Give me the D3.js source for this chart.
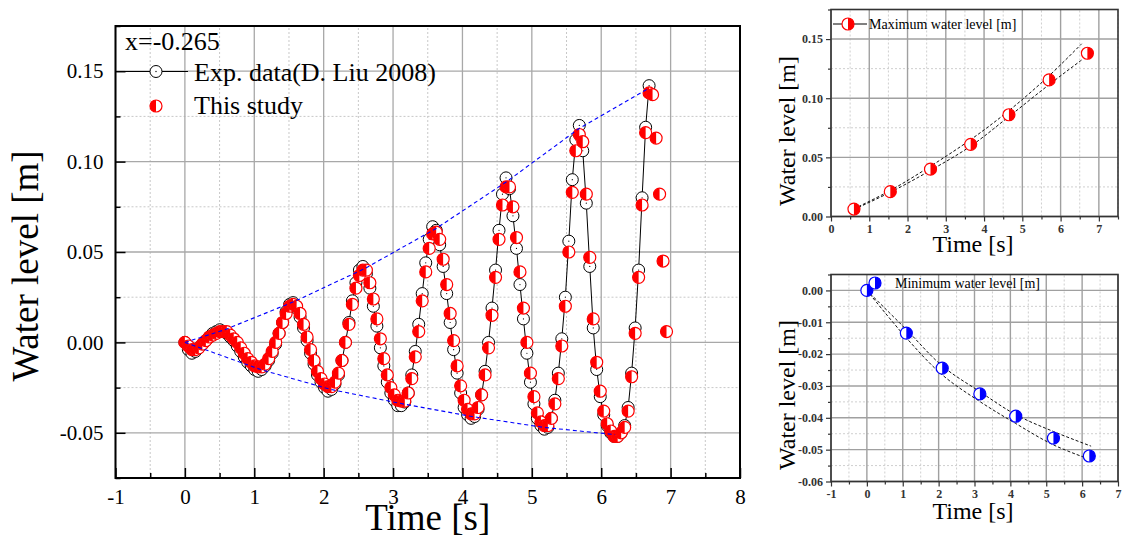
<!DOCTYPE html>
<html><head><meta charset="utf-8">
<script src="https://cdn.jsdelivr.net/npm/d3@7"></script>
<style>
body{margin:0;background:#fff}
svg{display:block}
text{font-family:"Liberation Serif","Times New Roman",serif}
</style>
</head><body>
<svg id="c" width="1123" height="537"></svg>
<script>
// ---------------- DATA ----------------
const timeS = [
0,0.050,0.101,0.151,0.201,0.252,0.302,0.352,0.402,0.453,
0.503,0.553,0.604,0.654,0.704,0.755,0.805,0.855,0.905,0.956,
1.006,1.056,1.107,1.157,1.207,1.258,1.308,1.358,1.408,1.459,
1.509,1.559,1.610,1.660,1.710,1.761,1.811,1.861,1.911,1.962,
2.012,2.062,2.113,2.163,2.213,2.264,2.314,2.364,2.414,2.465,
2.515,2.565,2.616,2.666,2.716,2.767,2.817,2.867,2.917,2.968,
3.018,3.068,3.119,3.169,3.219,3.270,3.320,3.370,3.420,3.471,
3.521,3.571,3.622,3.672,3.722,3.773,3.823,3.873,3.923,3.974,
4.024,4.074,4.125,4.175,4.225,4.276,4.326,4.376,4.426,4.477,
4.527,4.577,4.628,4.678,4.728,4.779,4.829,4.879,4.929,4.980,
5.030,5.080,5.131,5.181,5.231,5.282,5.332,5.382,5.432,5.483,
5.533,5.583,5.634,5.684,5.734,5.785,5.835,5.885,5.935,5.986,
6.036,6.086,6.137,6.187,6.237,6.288,6.338,6.388,6.438,6.489,
6.539,6.589,6.640,6.690,6.740,6.791,6.841,6.891,6.941];

const expLevel = [
0.000,-0.004,-0.006,-0.005,-0.003,-0.001,0.001,0.003,0.005,0.006,
0.007,0.006,0.005,0.003,0.001,-0.002,-0.005,-0.008,-0.011,-0.013,
-0.015,-0.016,-0.015,-0.013,-0.010,-0.006,-0.001,0.005,0.011,0.017,
0.021,0.022,0.019,0.014,0.008,0.001,-0.006,-0.012,-0.018,-0.022,
-0.025,-0.027,-0.026,-0.023,-0.018,-0.010,0.000,0.011,0.023,0.033,
0.040,0.042,0.038,0.030,0.020,0.009,-0.003,-0.013,-0.022,-0.028,
-0.032,-0.035,-0.035,-0.033,-0.028,-0.018,-0.005,0.010,0.027,0.044,
0.057,0.064,0.062,0.054,0.042,0.027,0.011,-0.004,-0.017,-0.028,
-0.036,-0.040,-0.042,-0.041,-0.037,-0.029,-0.016,0.000,0.019,0.040,
0.062,0.082,0.091,0.085,0.070,0.052,0.032,0.013,-0.006,-0.022,
-0.034,-0.042,-0.046,-0.048,-0.047,-0.042,-0.032,-0.017,0.002,0.025,
0.056,0.090,0.112,0.120,0.106,0.077,0.042,0.008,-0.015,-0.030,
-0.040,-0.046,-0.050,-0.052,-0.052,-0.050,-0.046,-0.036,-0.017,0.008,
0.040,0.080,0.119,0.142];

const studyLevel = [
0.000,-0.002,-0.004,-0.004,-0.003,-0.001,0.001,0.003,0.004,0.005,
0.006,0.006,0.006,0.004,0.002,0.000,-0.003,-0.006,-0.009,-0.011,
-0.013,-0.0135,-0.0135,-0.012,-0.009,-0.005,0.000,0.005,0.011,0.016,
0.020,0.021,0.020,0.016,0.010,0.003,-0.004,-0.010,-0.016,-0.020,
-0.023,-0.0245,-0.0245,-0.022,-0.017,-0.010,0.000,0.010,0.021,0.030,
0.037,0.040,0.040,0.033,0.024,0.013,0.002,-0.009,-0.018,-0.025,
-0.029,-0.032,-0.0325,-0.0325,-0.028,-0.020,-0.008,0.006,0.023,0.039,
0.052,0.060,0.061,0.057,0.046,0.032,0.016,0.001,-0.013,-0.024,
-0.032,-0.037,-0.0395,-0.0395,-0.036,-0.029,-0.018,-0.003,0.015,0.036,
0.057,0.076,0.086,0.086,0.075,0.058,0.039,0.019,0.000,-0.017,
-0.030,-0.039,-0.044,-0.046,-0.046,-0.042,-0.034,-0.020,-0.002,0.020,
0.050,0.083,0.106,0.115,0.111,0.082,0.047,0.013,-0.011,-0.027,
-0.038,-0.045,-0.049,-0.052,-0.052,-0.050,-0.047,-0.038,-0.019,0.005,
0.036,0.076,0.116,0.138,0.137,0.113,0.082,0.045,0.006];

// envelope (blue dashed) through crests / troughs
const crestTime  = [0, 0.56, 1.57, 2.6, 3.62, 4.64, 5.67, 6.66];
const crestLevel = [0, 0.0068, 0.0225, 0.041, 0.063, 0.089, 0.118, 0.140];
const troughTime  = [0, 1.09, 2.1, 3.14, 4.14, 5.17, 6.2];
const troughLevel = [0, -0.015, -0.026, -0.034, -0.041, -0.047, -0.051];

// max water level chart
const maxTime  = [0.6, 1.55, 2.6, 3.65, 4.65, 5.7, 6.7];
const maxLevel = [0.0063, 0.021, 0.040, 0.061, 0.086, 0.1155, 0.138];
const maxFitTime  = [0.6, 1.55, 2.6, 3.65, 4.65, 5.7, 6.55];
const maxFitUpper = [0.0065, 0.022, 0.0425, 0.065, 0.0895, 0.119, 0.146];
const maxFitLower = [0.006, 0.0205, 0.039, 0.0595, 0.0845, 0.1115, 0.1323];

// min water level chart
const minTime  = [0, 1.1, 2.1, 3.15, 4.15, 5.2, 6.2];
const minLevel = [0, -0.0134, -0.0244, -0.0325, -0.0395, -0.0464, -0.052];
const minFitTime  = [0, 1.1, 2.1, 3.15, 4.15, 5.2, 6.25];
const minFitUpper = [0, -0.0123, -0.0237, -0.0318, -0.039, -0.0443, -0.0489];
const minFitLower = [0, -0.0149, -0.0265, -0.0349, -0.0418, -0.0485, -0.0532];

// ticks
const mainXTicks = [-1,0,1,2,3,4,5,6,7,8];
const mainXMinor = [-0.5,0.5,1.5,2.5,3.5,4.5,5.5,6.5,7.5];
const mainYTicks = [-0.05,0,0.05,0.10,0.15];
const mainYMinor = [-0.075,-0.025,0.025,0.075,0.125,0.175];
const maxXTicks = [0,1,2,3,4,5,6,7];
const maxXMinor = [0.5,1.5,2.5,3.5,4.5,5.5,6.5,7.5];
const maxYTicks = [0,0.05,0.10,0.15];
const maxYMinor = [0.025,0.075,0.125,0.175];
const minXTicks = [-1,0,1,2,3,4,5,6,7];
const minXMinor = [-0.5,0.5,1.5,2.5,3.5,4.5,5.5,6.5];
const minYTicks = [0,-0.01,-0.02,-0.03,-0.04,-0.05,-0.06];
const minYMinor = [0.005,-0.005,-0.015,-0.025,-0.035,-0.045,-0.055];

// ---------------- DRAW ----------------
const svg = d3.select('#c');
const RED = '#ff0000', BLUE = '#0000ff';

function halfMarker(g, cx, cy, r, color, side) {
  g.append('circle').attr('cx', cx).attr('cy', cy).attr('r', r)
    .attr('fill', '#fff').attr('stroke', color).attr('stroke-width', 1.2);
  const sweep = side === 'left' ? 0 : 1;
  g.append('path')
    .attr('d', `M${cx},${cy - r} A${r},${r} 0 0 ${sweep} ${cx},${cy + r} Z`)
    .attr('fill', color);
}

function grids(g, x, y, xT, xm, yT, ym, majC, minC, majW) {
  const [x0, x1] = x.range(), [y0, y1] = y.range();
  g.selectAll(null).data(xm).enter().append('line')
    .attr('x1', d => x(d)).attr('x2', d => x(d)).attr('y1', y0).attr('y2', y1)
    .attr('stroke', minC).attr('stroke-width', 1).attr('stroke-dasharray', '2,2');
  g.selectAll(null).data(ym).enter().append('line')
    .attr('y1', d => y(d)).attr('y2', d => y(d)).attr('x1', x0).attr('x2', x1)
    .attr('stroke', minC).attr('stroke-width', 1).attr('stroke-dasharray', '2,2');
  g.selectAll(null).data(xT).enter().append('line')
    .attr('x1', d => x(d)).attr('x2', d => x(d)).attr('y1', y0).attr('y2', y1)
    .attr('stroke', majC).attr('stroke-width', majW);
  g.selectAll(null).data(yT).enter().append('line')
    .attr('y1', d => y(d)).attr('y2', d => y(d)).attr('x1', x0).attr('x2', x1)
    .attr('stroke', majC).attr('stroke-width', majW);
}

function styleAxis(sel, fontSize, color, weight) {
  sel.select('.domain').remove();
  sel.selectAll('line').attr('stroke', '#000').attr('stroke-width', 1.5);
  sel.selectAll('text').attr('font-family', '"Liberation Serif", serif')
    .attr('font-size', fontSize).attr('fill', color).attr('font-weight', weight || 'normal');
}

const fmt2 = d => (Math.abs(d) < 1e-9 ? 0 : d).toFixed(2);

// ===== MAIN CHART =====
{
  const L = 115.5, R = 740, T = 26, B = 478;
  const x = d3.scaleLinear().domain([-1, 8]).range([L, R]);
  const y = d3.scaleLinear().domain([-0.075, 0.175]).range([B, T]);
  const g = svg.append('g');
  grids(g, x, y, mainXTicks, mainXMinor, mainYTicks, mainYMinor, '#a8a8a8', '#c8c8c8', 1.3);

  const ax = g.append('g').attr('transform', `translate(0,${B})`)
    .call(d3.axisBottom(x).tickValues(mainXTicks).tickFormat(d => String(d))
      .tickSizeInner(-10).tickSizeOuter(0).tickPadding(11));
  styleAxis(ax, 21, '#000');
  const axm = g.append('g').attr('transform', `translate(0,${B})`)
    .call(d3.axisBottom(x).tickValues(mainXMinor).tickFormat('').tickSizeInner(-5).tickSizeOuter(0));
  styleAxis(axm, 21, '#000');
  const ay = g.append('g').attr('transform', `translate(${L},0)`)
    .call(d3.axisLeft(y).tickValues(mainYTicks).tickFormat(fmt2)
      .tickSizeInner(-10).tickSizeOuter(0).tickPadding(12));
  styleAxis(ay, 21, '#000');
  const aym = g.append('g').attr('transform', `translate(${L},0)`)
    .call(d3.axisLeft(y).tickValues(mainYMinor).tickFormat('').tickSizeInner(-5).tickSizeOuter(0));
  styleAxis(aym, 21, '#000');

  g.append('rect').attr('x', L).attr('y', T).attr('width', R - L).attr('height', B - T)
    .attr('fill', 'none').attr('stroke', '#000').attr('stroke-width', 2);

  const expPts = expLevel.map((v, i) => [timeS[i], v]);
  const stPts = studyLevel.map((v, i) => [timeS[i], v]);
  g.append('path').datum(expPts)
    .attr('d', d3.line().x(d => x(d[0])).y(d => y(d[1])))
    .attr('fill', 'none').attr('stroke', '#000').attr('stroke-width', 1);
  g.selectAll(null).data(expPts).enter().append('circle')
    .attr('cx', d => x(d[0])).attr('cy', d => y(d[1])).attr('r', 6)
    .attr('fill', '#fff').attr('stroke', '#000').attr('stroke-width', 1);
  g.selectAll(null).data(expPts).enter().append('circle')
    .attr('cx', d => x(d[0])).attr('cy', d => y(d[1])).attr('r', 0.6).attr('fill', '#000');
  const mg = g.append('g');
  stPts.forEach(d => halfMarker(mg, x(d[0]), y(d[1]), 6, RED, 'left'));

  const env = d3.line().x(d => x(d[0])).y(d => y(d[1]));
  g.append('path').datum(crestTime.map((t, i) => [t, crestLevel[i]])).attr('d', env)
    .attr('fill', 'none').attr('stroke', BLUE).attr('stroke-width', 1.1).attr('stroke-dasharray', '4,3');
  g.append('path').datum(troughTime.map((t, i) => [t, troughLevel[i]])).attr('d', env)
    .attr('fill', 'none').attr('stroke', BLUE).attr('stroke-width', 1.1).attr('stroke-dasharray', '4,3');

  g.append('text').attr('x', 125).attr('y', 50).attr('font-size', 26).text('x=-0.265');
  g.append('line').attr('x1', L + 2).attr('x2', 188).attr('y1', 71.5).attr('y2', 71.5)
    .attr('stroke', '#000').attr('stroke-width', 1.2);
  g.append('circle').attr('cx', 156).attr('cy', 71.5).attr('r', 6)
    .attr('fill', '#fff').attr('stroke', '#000').attr('stroke-width', 1);
  g.append('circle').attr('cx', 156).attr('cy', 71.5).attr('r', 0.7).attr('fill', '#000');
  g.append('text').attr('x', 194).attr('y', 81).attr('font-size', 26).text('Exp. data(D. Liu 2008)');
  halfMarker(g, 156, 106, 6, RED, 'left');
  g.append('text').attr('x', 194).attr('y', 114).attr('font-size', 26).text('This study');

  g.append('text').attr('transform', `translate(38,${(T + B) / 2 + 14}) rotate(-90)`)
    .attr('text-anchor', 'middle').attr('font-size', 37).text('Water level [m]');
  g.append('text').attr('x', (L + R) / 2).attr('y', 530)
    .attr('text-anchor', 'middle').attr('font-size', 37).text('Time [s]');
}

function smallChart(opt) {
  const { L, R, T, B, xd, yd, xT, xm, yT, ym, xfmt, yfmt } = opt;
  const x = d3.scaleLinear().domain(xd).range([L, R]);
  const y = d3.scaleLinear().domain(yd).range([B, T]);
  const g = svg.append('g');
  grids(g, x, y, xT, xm, yT, ym, '#a0a0a0', '#cfcfcf', 1.4);
  const ax = g.append('g').attr('transform', `translate(0,${B})`)
    .call(d3.axisBottom(x).tickValues(xT).tickFormat(xfmt).tickSizeInner(5).tickSizeOuter(0).tickPadding(3));
  styleAxis(ax, 12, '#333', 'bold');
  const axm = g.append('g').attr('transform', `translate(0,${B})`)
    .call(d3.axisBottom(x).tickValues(xm).tickFormat('').tickSizeInner(3).tickSizeOuter(0));
  styleAxis(axm, 12, '#333');
  const ay = g.append('g').attr('transform', `translate(${L},0)`)
    .call(d3.axisLeft(y).tickValues(yT).tickFormat(yfmt).tickSizeInner(5).tickSizeOuter(0).tickPadding(3));
  styleAxis(ay, 12, '#333', 'bold');
  const aym = g.append('g').attr('transform', `translate(${L},0)`)
    .call(d3.axisLeft(y).tickValues(ym).tickFormat('').tickSizeInner(3).tickSizeOuter(0));
  styleAxis(aym, 12, '#333');
  g.selectAll('.tick line').attr('stroke', '#333').attr('stroke-width', 1.2);
  g.append('rect').attr('x', L).attr('y', T).attr('width', R - L).attr('height', B - T)
    .attr('fill', 'none').attr('stroke', '#333').attr('stroke-width', 1.6);
  return { g, x, y };
}

// ===== MAX CHART =====
{
  const { g, x, y } = smallChart({ L: 831, R: 1118, T: 9.5, B: 216.5, xd: [0, 7.5], yd: [0, 0.175],
    xT: maxXTicks, xm: maxXMinor, yT: maxYTicks, ym: maxYMinor, xfmt: d => String(d), yfmt: fmt2 });
  const line = d3.line().x(d => x(d[0])).y(d => y(d[1])).curve(d3.curveCatmullRom);
  [maxFitUpper, maxFitLower].forEach(arr => {
    g.append('path').datum(maxFitTime.map((t, i) => [t, arr[i]])).attr('d', line)
      .attr('fill', 'none').attr('stroke', '#111').attr('stroke-width', 1).attr('stroke-dasharray', '3,2');
  });
  maxTime.forEach((t, i) => halfMarker(g, x(t), y(maxLevel[i]), 6, RED, 'right'));
  g.append('line').attr('x1', 833).attr('x2', 867).attr('y1', 24).attr('y2', 24)
    .attr('stroke', '#000').attr('stroke-width', 1);
  halfMarker(g, 848, 24, 6, RED, 'right');
  g.append('text').attr('x', 869).attr('y', 29).attr('font-size', 14).text('Maximum water level [m]');
  g.append('text').attr('transform', `translate(795,131) rotate(-90)`)
    .attr('text-anchor', 'middle').attr('font-size', 24).text('Water level [m]');
  g.append('text').attr('x', 973).attr('y', 252).attr('text-anchor', 'middle')
    .attr('font-size', 24).text('Time [s]');
}

// ===== MIN CHART =====
{
  const { g, x, y } = smallChart({ L: 831, R: 1118, T: 274.5, B: 481.5, xd: [-1, 7], yd: [-0.06, 0.005],
    xT: minXTicks, xm: minXMinor, yT: minYTicks, ym: minYMinor, xfmt: d => String(d), yfmt: fmt2 });
  const line = d3.line().x(d => x(d[0])).y(d => y(d[1])).curve(d3.curveCatmullRom);
  [minFitUpper, minFitLower].forEach(arr => {
    g.append('path').datum(minFitTime.map((t, i) => [t, arr[i]])).attr('d', line)
      .attr('fill', 'none').attr('stroke', '#111').attr('stroke-width', 1).attr('stroke-dasharray', '3,2');
  });
  minTime.forEach((t, i) => halfMarker(g, x(t), y(minLevel[i]), 6, BLUE, 'right'));
  halfMarker(g, 875, 283, 6, BLUE, 'right');
  g.append('text').attr('x', 895).attr('y', 288).attr('font-size', 14).text('Minimum water level [m]');
  g.append('text').attr('transform', `translate(795,395) rotate(-90)`)
    .attr('text-anchor', 'middle').attr('font-size', 24).text('Water level [m]');
  g.append('text').attr('x', 973).attr('y', 519).attr('text-anchor', 'middle')
    .attr('font-size', 24).text('Time [s]');
}
</script>
</body></html>
